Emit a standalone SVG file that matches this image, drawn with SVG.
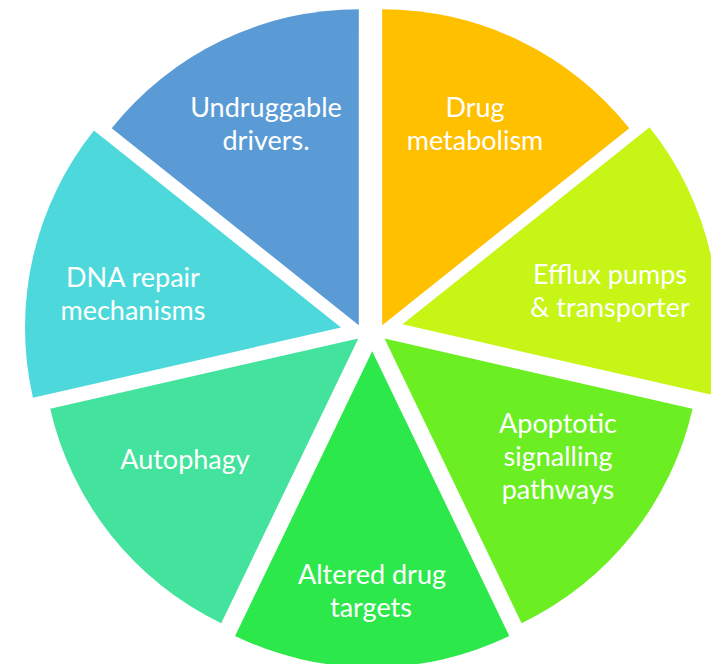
<svg xmlns="http://www.w3.org/2000/svg" width="711" height="664" viewBox="0 0 711 664">
<style>
  .lbl { font-family: Lato, "Open Sans", "Liberation Sans", sans-serif; font-size: 27px; fill: #ffffff; text-anchor: middle; }
</style>
<rect width="711" height="664" fill="#ffffff"/>
<g id="drug-metabolism">
  <path d="M382.2,325.2 L382.2,9.2 A316,316 0 0 1 629.26,128.18 Z" fill="#FFC000"/>
  <text class="lbl" x="475" y="117">Drug</text>
  <text class="lbl" x="475" y="150">metabolism</text>
</g>
<g id="efflux-pumps">
  <path d="M402.5,324.3 L649.56,127.28 A316,316 0 0 1 710.58,394.62 Z" fill="#C6F516"/>
  <text class="lbl" x="610" y="284">Efflux pumps</text>
  <text class="lbl" x="610" y="317">&amp; transporter</text>
</g>
<g id="apoptotic-signalling">
  <path d="M384.5,338.5 L692.58,408.82 A316,316 0 0 1 521.61,623.21 Z" fill="#6BEE22"/>
  <text class="lbl" x="558" y="433">Apoptotic</text>
  <text class="lbl" x="558" y="466">signalling</text>
  <text class="lbl" x="558" y="499">pathways</text>
</g>
<g id="altered-drug-targets">
  <path d="M372.2,351.3 L509.31,636.01 A316,316 0 0 1 235.09,636.01 Z" fill="#2DE84B"/>
  <text class="lbl" x="372" y="584">Altered drug</text>
  <text class="lbl" x="371" y="617">targets</text>
</g>
<g id="autophagy">
  <path d="M358.3,338.5 L221.19,623.21 A316,316 0 0 1 50.22,408.82 Z" fill="#43E29D"/>
  <text class="lbl" x="185" y="469">Autophagy</text>
</g>
<g id="dna-repair">
  <path d="M341,327.5 L32.92,397.82 A316,316 0 0 1 93.94,130.48 Z" fill="#4DD9DC"/>
  <text class="lbl" x="133" y="287">DNA repair</text>
  <text class="lbl" x="133" y="320">mechanisms</text>
</g>
<g id="undruggable-drivers">
  <path d="M358.8,325.2 L111.74,128.18 A316,316 0 0 1 358.8,9.2 Z" fill="#5B9BD5"/>
  <text class="lbl" x="266" y="117">Undruggable</text>
  <text class="lbl" x="266" y="150">drivers.</text>
</g>
<g id="connectors"></g>
</svg>
